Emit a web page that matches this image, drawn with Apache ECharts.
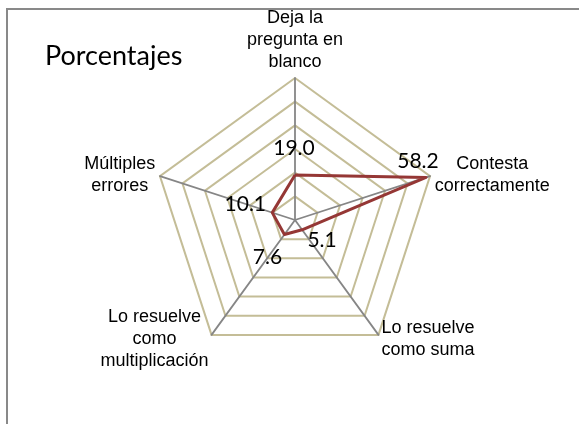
<!DOCTYPE html>
<html>
<head>
<meta charset="utf-8">
<script src="https://cdn.jsdelivr.net/npm/echarts@6/dist/echarts.min.js"></script>
<style>
  html, body { margin: 0; padding: 0; background: #fff; }
  #chart { width: 579px; height: 424px; }
</style>
</head>
<body>
<div id="chart"></div>
<script>
  // indicadores en el orden de ECharts (antihorario desde arriba)
  var categories = ['Deja la\npregunta en\nblanco', 'Múltiples\nerrores', 'Lo resuelve\ncomo\nmultiplicación', 'Lo resuelve\ncomo suma', 'Contesta\ncorrectamente'];
  var values = [19.0, 10.1, 7.6, 5.1, 58.2];
  var axisMax = 60;
  // desplazamiento de cada etiqueta respecto a su punto
  var labelShift = [[-1, -27], [-27, -8], [-17, 23], [20, 10], [-8, -16]];

  var chartDom = document.getElementById('chart');
  var myChart = echarts.init(chartDom);

  var option = {
    backgroundColor: '#fff',
    animation: false,
    title: {
      text: 'Porcentajes',
      left: 40,
      top: 38,
      textStyle: {
        fontFamily: 'Lato',
        fontSize: 27,
        fontWeight: 'normal',
        color: '#000'
      }
    },
    graphic: [
      {
        type: 'rect',
        shape: { x: 7, y: 9, width: 800, height: 600 },
        style: { fill: 'none', stroke: '#898989', lineWidth: 2 },
        silent: true
      }
    ],
    radar: {
      center: [295, 220],
      radius: 142,
      startAngle: 90,
      shape: 'polygon',
      splitNumber: 6,
      nameGap: 5,
      indicator: categories.map(function (c) {
        return { name: c, min: 0, max: axisMax };
      }),
      axisName: {
        color: '#000',
        fontFamily: 'Liberation Sans',
        fontSize: 18,
        lineHeight: 22,
        formatter: function (name) {
          return name.split('\n').map(function (s) {
            return '{c|' + s + '}';
          }).join('\n');
        },
        rich: {
          c: {
            align: 'center',
            color: '#000',
            fontFamily: 'Liberation Sans',
            fontSize: 18,
            lineHeight: 22
          }
        }
      },
      axisLine: {
        lineStyle: { color: '#868686', width: 1.8 }
      },
      splitLine: {
        lineStyle: { color: '#c4bd97', width: 2 }
      },
      splitArea: { show: false }
    },
    series: [
      {
        name: 'Porcentajes',
        type: 'radar',
        symbol: 'circle',
        symbolSize: 1,
        itemStyle: { color: '#953735' },
        lineStyle: { color: '#953735', width: 3 },
        label: {
          show: true,
          position: 'inside',
          color: '#000',
          fontFamily: 'Lato',
          fontSize: 21,
          formatter: function (params) {
            return Number(params.value).toFixed(1);
          }
        },
        labelLayout: function (params) {
          var i = values.indexOf(parseFloat(params.text));
          if (i < 0) return {};
          return { dx: labelShift[i][0], dy: labelShift[i][1] };
        },
        data: [
          { value: values, name: 'Porcentajes' }
        ]
      }
    ]
  };

  option && myChart.setOption(option);
</script>
</body>
</html>
